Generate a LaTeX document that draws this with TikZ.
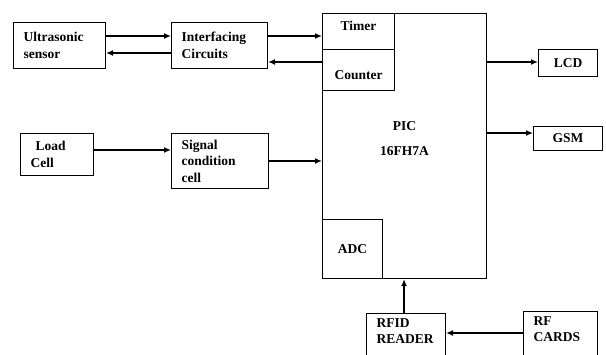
\documentclass[tikz,border=0pt]{standalone}
\usepackage{fontspec}
\setmainfont{Liberation Serif}
\usetikzlibrary{arrows.meta}

\begin{document}
\begin{tikzpicture}[x=1pt, y=-1pt, >={Latex[length=7pt,width=6pt]},
    font=\fontsize{13.5}{16.5}\selectfont\bfseries,
    blk/.style={draw, line width=1.1pt, anchor=north west, align=left, inner xsep=10pt, inner ysep=3pt},
    sub/.style={draw, line width=1.1pt, anchor=north west, align=center, inner sep=0pt},
    arr/.style={->, line width=1.7pt}]
  \useasboundingbox (0,0) rectangle (606,354);

  % left column of blocks
  \node[blk, text width=72pt, minimum height=46pt] (us) at (13,22) {Ultrasonic\\sensor};
  \node[blk, text width=53pt, minimum height=42pt] (lc) at (20,133) {\hspace{5pt}Load\\Cell};

  % middle column
  \node[blk, text width=76pt, minimum height=46pt] (ic) at (171,22) {Interfacing\\Circuits};
  \node[blk, text width=77pt, minimum height=55pt] (sc) at (171,133) {Signal\\condition\\cell};

  % controller with its inner parts
  \node[sub, minimum width=164pt, minimum height=265pt,
        label={[align=center, yshift=7.5pt, font=\fontsize{13.5}{25}\selectfont\bfseries]center:PIC\\16FH7A}] (pic) at (322,13) {};
  \node[sub, minimum width=72pt, minimum height=36pt] (tim) at (322,13) {\raisebox{1pt}[0pt][0pt]{Timer}};
  \node[sub, minimum width=72pt, minimum height=41pt] (cnt) at (322,49) {\raisebox{-9.5pt}[0pt][0pt]{Counter}};
  \node[sub, minimum width=60pt, minimum height=59pt] (adc) at (322,219) {ADC};

  % outputs
  \node[sub, minimum width=59pt, minimum height=27pt] (lcd) at (538,49) {LCD};
  \node[sub, minimum width=69pt, minimum height=24pt] (gsm) at (533,126) {GSM};

  % rfid part (boxes run past the lower edge)
  \node[blk, text width=59pt, inner ysep=5pt, text depth=30pt] (rfid) at (366,313) {RFID\\READER};
  \node[blk, text width=54pt, inner ysep=5pt, text depth=30pt] (rfc) at (523,311) {RF\\CARDS};

  % connections
  \draw[arr] ([yshift=-14pt]us.north east) -- ([yshift=-14pt]ic.north west);
  \draw[arr] ([yshift=-31pt]ic.north west) -- ([yshift=-31pt]us.north east);
  \draw[arr] ([yshift=-14pt]ic.north east) -- ([yshift=-23pt]tim.north west);
  \draw[arr] ([yshift=-49pt]pic.north west) -- ([yshift=-40pt]ic.north east);
  \draw[arr] ([yshift=-17pt]lc.north east) -- ([yshift=-17pt]sc.north west);
  \draw[arr] ([yshift=-28pt]sc.north east) -- ([yshift=-148pt]pic.north west);
  \draw[arr] ([yshift=-49pt]pic.north east) -- ([yshift=-13pt]lcd.north west);
  \draw[arr] ([yshift=-120pt]pic.north east) -- ([yshift=-7pt]gsm.north west);
  \draw[arr] ([xshift=-2pt]rfid.north) -- ([xshift=-2pt]rfid.north |- pic.south);
  \draw[arr] ([yshift=-22pt]rfc.north west) -- ([yshift=-20pt]rfid.north east);
\end{tikzpicture}
\end{document}
